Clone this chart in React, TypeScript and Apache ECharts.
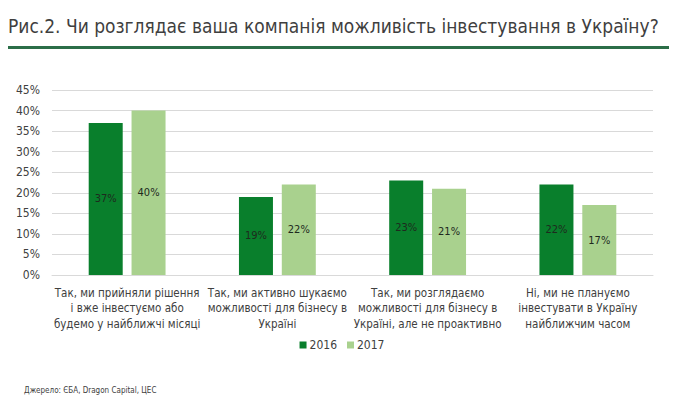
import React, { useEffect, useRef } from "react";
import * as echarts from "echarts";

const categories = [
  "Так, ми прийняли рішення\nі вже інвестуємо або\nбудемо у найближчі місяці",
  "Так, ми активно шукаємо\nможливості для бізнесу в\nУкраїні",
  "Так, ми розглядаємо\nможливості для бізнесу в\nУкраїні, але не проактивно",
  "Ні, ми не плануємо\nінвестувати в Україну\nнайближчим часом",
];
const series2016 = [37, 19, 23, 22];
const series2017 = [40, 22, 21, 17];
const yTicks = [0, 5, 10, 15, 20, 25, 30, 35, 40, 45];

const titleText = "Рис.2. Чи розглядає ваша компанія можливість інвестування в Україну?";
const sourceText = "Джерело: ЄБА, Dragon Capital, ЦЕС";

export default function App() {
  const ref = useRef<HTMLDivElement>(null);
  useEffect(() => {
    if (!ref.current) return;
    const chart = echarts.init(ref.current, null, { renderer: "svg" });
    const font = "Tahoma, 'DejaVu Sans Condensed', 'Liberation Sans', sans-serif";
    const cond = "'DejaVu Sans Condensed', sans-serif";
    chart.setOption({
      animation: false,
      backgroundColor: "#ffffff",
      textStyle: { fontFamily: font },
      graphic: [
        {
          type: "text",
          left: 8,
          top: 16,
          style: {
            text: titleText,
            fontSize: 19,
            fontFamily: cond,
            fill: "#3f3f3f",
          },
        },
        {
          type: "rect",
          shape: { x: 8, y: 46, width: 661, height: 3 },
          style: { fill: "#2b6e48" },
        },
        {
          type: "text",
          left: 24,
          top: 386,
          style: {
            text: sourceText,
            fontSize: 8,
            fontFamily: cond,
            fill: "#404040",
          },
        },
      ],
      legend: {
        data: ["2016", "2017"],
        top: 334,
        left: "center",
        itemWidth: 7,
        itemHeight: 7,
        itemGap: 10,
        icon: "rect",
        textStyle: { fontSize: 12, color: "#404040", fontFamily: cond, padding: [0, 0, 0, -2] },
      },
      grid: { left: 52, right: 31, top: 90, bottom: 123, containLabel: false },
      xAxis: {
        type: "category",
        data: categories,
        axisLine: { show: true, lineStyle: { color: "#d9d9d9" } },
        axisTick: { show: false },
        axisLabel: {
          interval: 0,
          color: "#404040",
          fontSize: 11.5,
          lineHeight: 15.5,
          margin: 10,
          fontFamily: cond,
        },
      },
      yAxis: {
        type: "value",
        min: 0,
        max: 45,
        interval: 5,
        axisLine: { show: false },
        axisTick: { show: false },
        splitLine: { lineStyle: { color: "#d9d9d9", width: 1 } },
        axisLabel: {
          formatter: (v: number) => (yTicks.includes(v) ? v + "%" : ""),
          color: "#404040",
          fontSize: 12,
          margin: 12,
          fontFamily: cond,
        },
      },
      series: [
        {
          name: "2016",
          type: "bar",
          data: series2016,
          barWidth: 34,
          barGap: "26%",
          itemStyle: { color: "#097f2c" },
          label: {
            show: true,
            position: "inside",
            formatter: "{c}%",
            color: "#1e2a1e",
            fontSize: 11,
            fontFamily: font,
          },
        },
        {
          name: "2017",
          type: "bar",
          data: series2017,
          barWidth: 34,
          itemStyle: { color: "#a9d18e" },
          label: {
            show: true,
            position: "inside",
            formatter: "{c}%",
            color: "#1e2a1e",
            fontSize: 11,
            fontFamily: font,
          },
        },
      ],
    });
    return () => chart.dispose();
  }, []);
  return <div ref={ref} style={{ width: 684, height: 398, position: "absolute", left: 0, top: 0 }} />;
}
